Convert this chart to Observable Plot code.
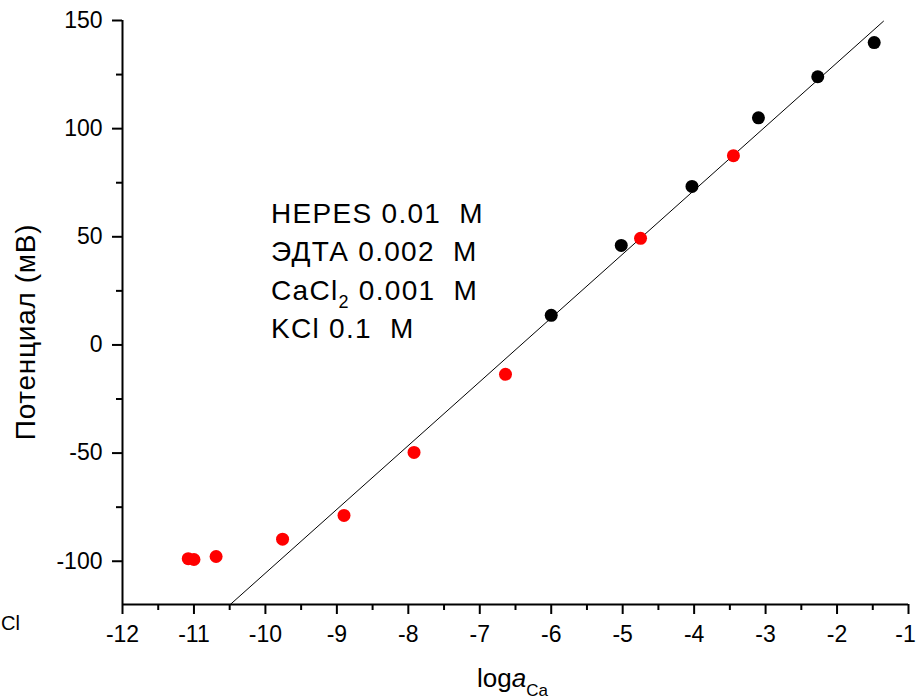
<!DOCTYPE html>
<html>
<head>
<meta charset="utf-8">
<script src="https://cdn.jsdelivr.net/npm/d3@7"></script>
<script src="https://cdn.jsdelivr.net/npm/@observablehq/plot@0.6"></script>
<style>
  html, body { margin: 0; padding: 0; background: #fff; }
  #chart { position: relative; width: 917px; height: 699px; }
  svg { font-family: "Liberation Sans", Arial, sans-serif; }
</style>
</head>
<body>
<div id="chart"></div>
<script>
// ---- data ----
const blackX = [-6.0, -5.02, -4.03, -3.1, -2.27, -1.48];
const blackY = [13.7, 46, 73.3, 105, 124, 139.8];
const redX = [-11.08, -11.0, -10.69, -9.76, -8.9, -7.92, -6.64, -4.75, -3.45];
const redY = [-98.8, -99.2, -97.8, -89.8, -78.8, -49.7, -13.6, 49.3, 87.5];
const fitSlope = 29.5;       // mV per decade
const fitIntercept = 189.5;  // mV at loga = 0
const fitRange = [-10.49, -1.35];
const xTicks = [-12, -11, -10, -9, -8, -7, -6, -5, -4, -3, -2, -1];
const xMinor = [-11.5, -10.5, -9.5, -8.5, -7.5, -6.5, -5.5, -4.5, -3.5, -2.5, -1.5];
const yTicks = [-100, -50, 0, 50, 100, 150];
const yMinor = [-75, -25, 25, 75, 125];
const notes = ["HEPES 0.01\u00a0 M", "ЭДТА 0.002\u00a0 M", "CaCl|2| 0.001\u00a0 M", "KCl 0.1\u00a0 M"];

const black = blackX.map((x, i) => ({x, y: blackY[i]}));
const red = redX.map((x, i) => ({x, y: redY[i]}));
const fit = fitRange.map(x => ({x, y: fitSlope * x + fitIntercept}));

const fmt = d => String(d);
const ff = "Liberation Sans, Arial, sans-serif";

const plot = Plot.plot({
  width: 917,
  height: 699,
  marginLeft: 122,
  marginRight: 9,
  marginTop: 20,
  marginBottom: 95,
  x: {domain: [-12, -1]},
  y: {domain: [-120, 150]},
  style: {fontFamily: ff, fontSize: "23px", color: "black", background: "white"},
  marks: [
    Plot.axisX({ticks: xTicks, tickSize: 10, tickPadding: 11, tickFormat: fmt, fontSize: 23, strokeWidth: 2, label: null}),
    Plot.axisX({ticks: xMinor, tickSize: 6, text: null, strokeWidth: 2, label: null}),
    Plot.axisY({ticks: yTicks, tickSize: 10, tickPadding: 10, tickFormat: fmt, fontSize: 23, strokeWidth: 2, label: null}),
    Plot.axisY({ticks: yMinor, tickSize: 6, text: null, strokeWidth: 2, label: null}),
    Plot.ruleX([-12], {stroke: "black", strokeWidth: 2}),
    Plot.ruleY([-120], {stroke: "black", strokeWidth: 2}),
    Plot.line(fit, {x: "x", y: "y", stroke: "black", strokeWidth: 1}),
    Plot.dot(black, {x: "x", y: "y", r: 6.5, fill: "black", stroke: "none"}),
    Plot.dot(red, {x: "x", y: "y", r: 6.5, fill: "#ff0000", stroke: "none"})
  ]
});

document.getElementById("chart").appendChild(plot);

const svg = d3.select(plot);

// keep the last x tick label inside the picture
svg.selectAll("text").filter(function () { return this.textContent === "-1"; })
  .attr("dx", -3);

// annotation block
const noteX = 271, noteY0 = 223, noteDy = 38.3;
notes.forEach((n, i) => {
  const t = svg.append("text")
    .attr("x", noteX).attr("y", noteY0 + i * noteDy)
    .attr("text-anchor", "start")
    .attr("letter-spacing", 1.3)
    .attr("font-family", ff).attr("font-size", 28).attr("fill", "black");
  const parts = n.split("|");
  parts.forEach((p, j) => {
    if (j % 2 === 1) {
      t.append("tspan").attr("dy", 8).attr("font-size", 18).text(p);
    } else if (j > 0) {
      t.append("tspan").attr("dy", -8).text(p);
    } else {
      t.append("tspan").text(p);
    }
  });
});

// y label
svg.append("text")
  .attr("transform", "translate(35,332) rotate(-90)")
  .attr("text-anchor", "middle")
  .attr("letter-spacing", 0.7)
  .attr("font-family", ff).attr("font-size", 28).attr("fill", "black")
  .text("Потенциал (мВ)");

// x label
const xl = svg.append("text")
  .attr("x", 477).attr("y", 687)
  .attr("text-anchor", "start")
  .attr("font-family", ff).attr("font-size", 26).attr("fill", "black");
xl.append("tspan").text("log");
xl.append("tspan").attr("font-style", "italic").text("a");
xl.append("tspan").attr("dy", 9).attr("font-size", 17).text("Ca");

// stray label at left edge
svg.append("text")
  .attr("x", 1).attr("y", 630)
  .attr("text-anchor", "start")
  .attr("font-family", ff).attr("font-size", 20).attr("fill", "black")
  .text("Cl");
</script>
</body>
</html>
